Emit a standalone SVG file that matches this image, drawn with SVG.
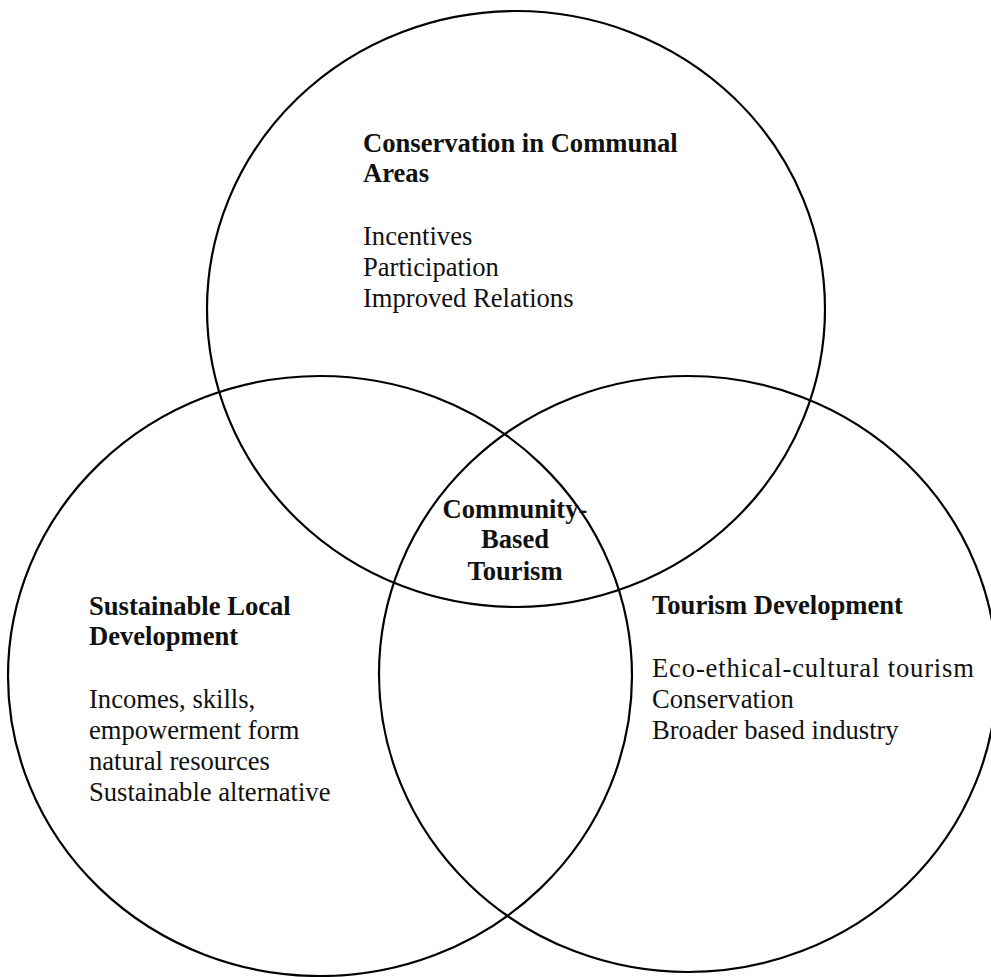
<svg xmlns="http://www.w3.org/2000/svg" width="991" height="977" viewBox="0 0 991 977">
<style>
.ring{fill:none;stroke:#000;stroke-width:2.2}
text{font-family:"Liberation Serif","Times New Roman",serif;font-size:26.6px;fill:#111}
.h{font-weight:bold}
.c{text-anchor:middle}
</style>
<rect x="0" y="0" width="991" height="977" fill="#fff"/>
<g id="conservation">
<ellipse class="ring" cx="516" cy="309" rx="309" ry="298"/>
<text class="h" x="363" y="152">Conservation in Communal</text>
<text class="h" x="363" y="182">Areas</text>
<text x="363" y="245">Incentives</text>
<text x="363" y="276">Participation</text>
<text x="363" y="307">Improved Relations</text>
</g>
<g id="sustainable">
<ellipse class="ring" cx="320" cy="676" rx="312" ry="300"/>
<text class="h" x="89" y="615">Sustainable Local</text>
<text class="h" x="89" y="645">Development</text>
<text x="89" y="708">Incomes, skills,</text>
<text x="89" y="739">empowerment form</text>
<text x="89" y="770">natural resources</text>
<text x="89" y="801">Sustainable alternative</text>
</g>
<g id="tourism">
<ellipse class="ring" cx="688" cy="674" rx="309" ry="298"/>
<text class="h" x="652" y="614">Tourism Development</text>
<text x="652" y="677" textLength="322" lengthAdjust="spacing">Eco-ethical-cultural tourism</text>
<text x="652" y="708">Conservation</text>
<text x="652" y="739">Broader based industry</text>
</g>
<g id="community">
<text class="h c" x="515" y="518">Community-</text>
<text class="h c" x="515" y="548">Based</text>
<text class="h c" x="515" y="580">Tourism</text>
</g>
<g id="connectors"></g>
</svg>
